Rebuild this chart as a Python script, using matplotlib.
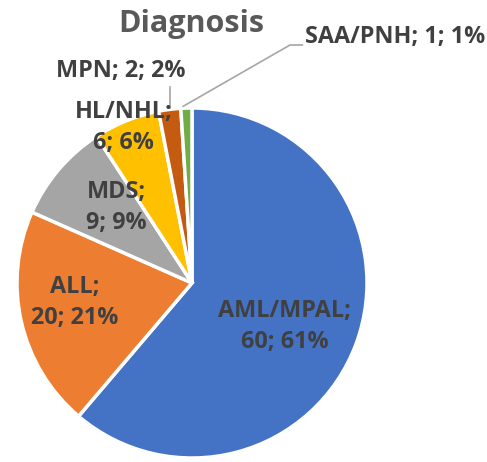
import matplotlib.pyplot as plt

# ===================== data =====================
categories = ["AML/MPAL", "ALL", "MDS", "HL/NHL", "MPN", "SAA/PNH"]
counts = [60, 20, 9, 6, 2, 1]
pct_text = ["61%", "21%", "9%", "6%", "2%", "1%"]
colors = ["#4472C4", "#ED7D31", "#A5A5A5", "#FFC000", "#C55A11", "#70AD47"]

TEXT_COLOR = "#404040"
LEADER = "#A6A6A6"
FS = 16.8
plt.rcParams["font.family"] = ["Open Sans", "DejaVu Sans"]

fig = plt.figure(figsize=(4.87, 4.62), dpi=100)
W, H = 487, 462
cx, cy, r = 192, 283, 175  # pie centre / radius in pixels
ax = fig.add_axes([(cx - r) / W, (H - cy - r) / H, 2 * r / W, 2 * r / H])

wedges, _ = ax.pie(counts, colors=colors, startangle=90, counterclock=False,
                   wedgeprops=dict(edgecolor="white", linewidth=2.5))
ax.set_xlim(-1, 1)
ax.set_ylim(-1, 1)
ax.set_aspect("equal")
ax.axis("off")

lbl = [f"{c};\n{n}; {p}" for c, n, p in zip(categories, counts, pct_text)]
font = dict(fontsize=FS, fontweight="bold", color=TEXT_COLOR,
            ha="center", va="center", linespacing=1.4)

# labels inside the larger slices (x, y in pie-radius units)
inside = {0: (0.53, -0.25), 1: (-0.67, -0.11), 2: (-0.43, 0.43), 3: (-0.39, 0.89)}
for i, (x, y) in inside.items():
    ax.text(x, y, lbl[i], **font)

# MPN label above its slice with a short leader
ax.text(-0.41, 1.21, f"{categories[4]}; {counts[4]}; {pct_text[4]}", **font)
ax.plot([-0.126, -0.126], [1.0, 1.12], color=LEADER, lw=1.2, clip_on=False)

# SAA/PNH label with elbow leader
ax.text(0.646, 1.405, f"{categories[5]}; {counts[5]}; {pct_text[5]}",
        fontsize=FS, fontweight="bold", color=TEXT_COLOR, ha="left", va="center")
ax.plot([-0.05, 0.56, 0.63], [1.01, 1.36, 1.36], color=LEADER, lw=1.2,
        clip_on=False)

fig.text(0.393, 0.948, "Diagnosis", fontsize=22, fontweight="bold",
         color="#595959", ha="center", va="center")

fig.savefig("out.png", dpi=100)
